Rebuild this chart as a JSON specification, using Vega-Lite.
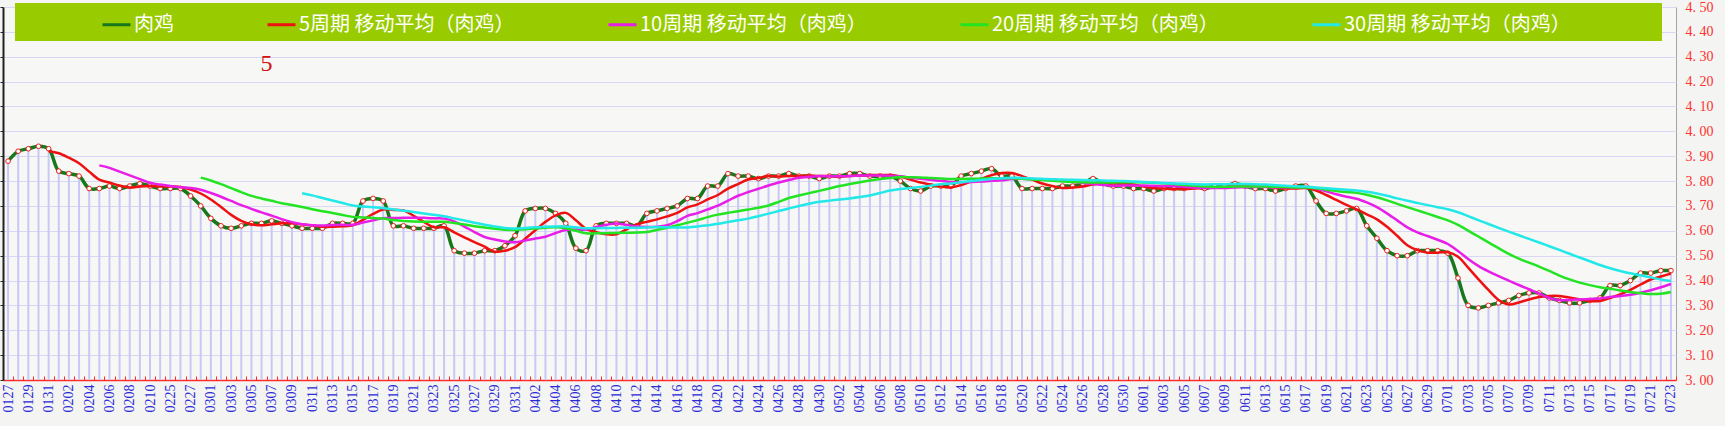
{
  "$schema": "https://vega.github.io/schema/vega-lite/v6.json",
  "width": 1673,
  "height": 373,
  "autosize": {"type": "none"},
  "padding": {"left": 3, "top": 7, "right": 49, "bottom": 46},
  "background": "#f4f4f2",
  "config": {
    "view": {"stroke": "#a4a4a4", "fill": "#f7f7f5"},
    "font": "Liberation Serif"
  },
  "data": {
    "values": [
      {"d": "0127", "v": 3.88}, {"d": "0128", "v": 3.92}, {"d": "0129", "v": 3.93}, {"d": "0130", "v": 3.94}, {"d": "0131", "v": 3.93},
      {"d": "0201", "v": 3.84}, {"d": "0202", "v": 3.83}, {"d": "0203", "v": 3.82}, {"d": "0204", "v": 3.77}, {"d": "0205", "v": 3.77},
      {"d": "0206", "v": 3.78}, {"d": "0207", "v": 3.77}, {"d": "0208", "v": 3.78}, {"d": "0209", "v": 3.79}, {"d": "0210", "v": 3.78},
      {"d": "0211", "v": 3.77}, {"d": "0225", "v": 3.77}, {"d": "0226", "v": 3.77}, {"d": "0227", "v": 3.74}, {"d": "0228", "v": 3.70},
      {"d": "0301", "v": 3.65}, {"d": "0302", "v": 3.62}, {"d": "0303", "v": 3.61}, {"d": "0304", "v": 3.62}, {"d": "0305", "v": 3.63},
      {"d": "0306", "v": 3.63}, {"d": "0307", "v": 3.64}, {"d": "0308", "v": 3.63}, {"d": "0309", "v": 3.62}, {"d": "0310", "v": 3.61},
      {"d": "0311", "v": 3.61}, {"d": "0312", "v": 3.61}, {"d": "0313", "v": 3.63}, {"d": "0314", "v": 3.63}, {"d": "0315", "v": 3.63},
      {"d": "0316", "v": 3.72}, {"d": "0317", "v": 3.73}, {"d": "0318", "v": 3.72}, {"d": "0319", "v": 3.62}, {"d": "0320", "v": 3.62},
      {"d": "0321", "v": 3.61}, {"d": "0322", "v": 3.61}, {"d": "0323", "v": 3.61}, {"d": "0324", "v": 3.62}, {"d": "0325", "v": 3.52},
      {"d": "0326", "v": 3.51}, {"d": "0327", "v": 3.51}, {"d": "0328", "v": 3.52}, {"d": "0329", "v": 3.52}, {"d": "0330", "v": 3.54},
      {"d": "0331", "v": 3.58}, {"d": "0401", "v": 3.68}, {"d": "0402", "v": 3.69}, {"d": "0403", "v": 3.69}, {"d": "0404", "v": 3.67},
      {"d": "0405", "v": 3.63}, {"d": "0406", "v": 3.53}, {"d": "0407", "v": 3.52}, {"d": "0408", "v": 3.62}, {"d": "0409", "v": 3.63},
      {"d": "0410", "v": 3.63}, {"d": "0411", "v": 3.63}, {"d": "0412", "v": 3.62}, {"d": "0413", "v": 3.67}, {"d": "0414", "v": 3.68},
      {"d": "0415", "v": 3.69}, {"d": "0416", "v": 3.70}, {"d": "0417", "v": 3.73}, {"d": "0418", "v": 3.73}, {"d": "0419", "v": 3.78},
      {"d": "0420", "v": 3.78}, {"d": "0421", "v": 3.83}, {"d": "0422", "v": 3.82}, {"d": "0423", "v": 3.82}, {"d": "0424", "v": 3.81},
      {"d": "0425", "v": 3.82}, {"d": "0426", "v": 3.82}, {"d": "0427", "v": 3.83}, {"d": "0428", "v": 3.82}, {"d": "0429", "v": 3.82},
      {"d": "0430", "v": 3.81}, {"d": "0501", "v": 3.82}, {"d": "0502", "v": 3.82}, {"d": "0503", "v": 3.83}, {"d": "0504", "v": 3.83},
      {"d": "0505", "v": 3.82}, {"d": "0506", "v": 3.82}, {"d": "0507", "v": 3.82}, {"d": "0508", "v": 3.80}, {"d": "0509", "v": 3.77},
      {"d": "0510", "v": 3.76}, {"d": "0511", "v": 3.78}, {"d": "0512", "v": 3.78}, {"d": "0513", "v": 3.78}, {"d": "0514", "v": 3.82},
      {"d": "0515", "v": 3.83}, {"d": "0516", "v": 3.84}, {"d": "0517", "v": 3.85}, {"d": "0518", "v": 3.82}, {"d": "0519", "v": 3.82},
      {"d": "0520", "v": 3.77}, {"d": "0521", "v": 3.77}, {"d": "0522", "v": 3.77}, {"d": "0523", "v": 3.77}, {"d": "0524", "v": 3.78},
      {"d": "0525", "v": 3.78}, {"d": "0526", "v": 3.79}, {"d": "0527", "v": 3.81}, {"d": "0528", "v": 3.79}, {"d": "0529", "v": 3.78},
      {"d": "0530", "v": 3.78}, {"d": "0531", "v": 3.77}, {"d": "0601", "v": 3.77}, {"d": "0602", "v": 3.76}, {"d": "0603", "v": 3.77},
      {"d": "0604", "v": 3.77}, {"d": "0605", "v": 3.77}, {"d": "0606", "v": 3.78}, {"d": "0607", "v": 3.77}, {"d": "0608", "v": 3.78},
      {"d": "0609", "v": 3.78}, {"d": "0610", "v": 3.79}, {"d": "0611", "v": 3.78}, {"d": "0612", "v": 3.77}, {"d": "0613", "v": 3.77},
      {"d": "0614", "v": 3.76}, {"d": "0615", "v": 3.77}, {"d": "0616", "v": 3.78}, {"d": "0617", "v": 3.78}, {"d": "0618", "v": 3.72},
      {"d": "0619", "v": 3.67}, {"d": "0620", "v": 3.67}, {"d": "0621", "v": 3.68}, {"d": "0622", "v": 3.69}, {"d": "0623", "v": 3.62},
      {"d": "0624", "v": 3.57}, {"d": "0625", "v": 3.52}, {"d": "0626", "v": 3.50}, {"d": "0627", "v": 3.50}, {"d": "0628", "v": 3.52},
      {"d": "0629", "v": 3.52}, {"d": "0630", "v": 3.52}, {"d": "0701", "v": 3.51}, {"d": "0702", "v": 3.41}, {"d": "0703", "v": 3.30},
      {"d": "0704", "v": 3.29}, {"d": "0705", "v": 3.30}, {"d": "0706", "v": 3.31}, {"d": "0707", "v": 3.32}, {"d": "0708", "v": 3.34},
      {"d": "0709", "v": 3.35}, {"d": "0710", "v": 3.35}, {"d": "0711", "v": 3.33}, {"d": "0712", "v": 3.32}, {"d": "0713", "v": 3.31},
      {"d": "0714", "v": 3.31}, {"d": "0715", "v": 3.32}, {"d": "0716", "v": 3.33}, {"d": "0717", "v": 3.38}, {"d": "0718", "v": 3.38},
      {"d": "0719", "v": 3.40}, {"d": "0720", "v": 3.43}, {"d": "0721", "v": 3.43}, {"d": "0722", "v": 3.44}, {"d": "0723", "v": 3.44}
    ]
  },
  "encoding": {
    "x": {
      "field": "d",
      "type": "ordinal",
      "sort": "ascending",
      "scale": {"type": "band", "paddingInner": 0, "paddingOuter": 0},
      "axis": {
        "title": null,
        "grid": false,
        "labelAngle": 270,
        "labelAlign": "right",
        "labelBaseline": "middle",
        "labelColor": "#2a2ad6",
        "labelFont": "Liberation Serif",
        "labelFontSize": 14,
        "labelOverlap": "parity",
        "labelPadding": 8,
        "tickBand": "extent",
        "tickColor": "#ff2a2a",
        "tickSize": -4,
        "domainColor": "#ff2a2a",
        "domainWidth": 1.5
      }
    }
  },
  "layer": [
    {
      "mark": {"type": "bar", "width": 2, "color": "#c8c8f6"},
      "encoding": {
        "y": {
          "field": "v",
          "type": "quantitative",
          "scale": {"domain": [3, 4.5], "zero": false, "nice": false},
          "axis": {
            "orient": "left",
            "title": null,
            "labels": false,
            "grid": false,
            "ticks": true,
            "tickSize": 3,
            "tickColor": "#222222",
            "domainColor": "#222222",
            "domainWidth": 2,
            "values": [3.0, 3.1, 3.2, 3.3, 3.4, 3.5, 3.6, 3.7, 3.8, 3.9, 4.0, 4.1, 4.2, 4.3, 4.4, 4.5]
          }
        },
        "y2": {"datum": 3}
      }
    },
    {
      "mark": {"type": "line", "interpolate": "catmull-rom", "strokeWidth": 3.5},
      "encoding": {
        "y": {
          "field": "v",
          "type": "quantitative",
          "axis": {
            "orient": "right",
            "title": null,
            "grid": true,
            "gridColor": "#d8d8f6",
            "gridWidth": 1,
            "ticks": false,
            "domain": false,
            "labelPadding": 9,
            "labelColor": "#ff3030",
            "labelFont": "Liberation Serif",
            "labelFontSize": 14,
            "labelExpr": "replace(format(datum.value, '.2f'), '.', '. ')",
            "values": [3.0, 3.1, 3.2, 3.3, 3.4, 3.5, 3.6, 3.7, 3.8, 3.9, 4.0, 4.1, 4.2, 4.3, 4.4, 4.5]
          }
        },
        "color": {
          "datum": "肉鸡",
          "type": "nominal",
          "scale": {
            "domain": ["肉鸡", "5周期 移动平均（肉鸡）", "10周期 移动平均（肉鸡）", "20周期 移动平均（肉鸡）", "30周期 移动平均（肉鸡）"],
            "range": ["#16781a", "#ee1111", "#e81ee8", "#22e422", "#22e8e8"]
          },
          "legend": {
            "orient": "none",
            "legendX": 12,
            "legendY": -4,
            "direction": "horizontal",
            "fillColor": "#99cc00",
            "padding": 6,
            "title": "　",
            "titleOrient": "left",
            "titleFontSize": 20,
            "titleFont": "Noto Sans CJK SC",
            "titlePadding": 80,
            "symbolType": "stroke",
            "symbolSize": 784,
            "symbolStrokeWidth": 3,
            "labelColor": "#ffffff",
            "labelFont": "Noto Sans CJK SC",
            "labelFontSize": 20,
            "labelOffset": 2,
            "labelLimit": 0,
            "columnPadding": 87,
            "labelExpr": "datum.label == '30周期 移动平均（肉鸡）' ? datum.label + '　　　　⠀' : datum.label"
          }
        }
      }
    },
    {
      "mark": {"type": "point", "filled": true, "fill": "#ffffff", "stroke": "#ee2020", "strokeWidth": 1, "size": 22, "opacity": 1},
      "encoding": {"y": {"field": "v", "type": "quantitative", "axis": null}}
    },
    {
      "transform": [
        {"window": [{"op": "mean", "field": "v", "as": "m"}, {"op": "count", "as": "n"}], "frame": [-4, 0], "sort": [{"field": "d", "order": "ascending"}]},
        {"filter": "datum.n == 5"}
      ],
      "mark": {"type": "line", "interpolate": "catmull-rom", "strokeWidth": 2.5},
      "encoding": {
        "y": {"field": "m", "type": "quantitative", "axis": null},
        "color": {"datum": "5周期 移动平均（肉鸡）"}
      }
    },
    {
      "transform": [
        {"window": [{"op": "mean", "field": "v", "as": "m"}, {"op": "count", "as": "n"}], "frame": [-9, 0], "sort": [{"field": "d", "order": "ascending"}]},
        {"filter": "datum.n == 10"}
      ],
      "mark": {"type": "line", "interpolate": "catmull-rom", "strokeWidth": 2.5},
      "encoding": {
        "y": {"field": "m", "type": "quantitative", "axis": null},
        "color": {"datum": "10周期 移动平均（肉鸡）"}
      }
    },
    {
      "transform": [
        {"window": [{"op": "mean", "field": "v", "as": "m"}, {"op": "count", "as": "n"}], "frame": [-19, 0], "sort": [{"field": "d", "order": "ascending"}]},
        {"filter": "datum.n == 20"}
      ],
      "mark": {"type": "line", "interpolate": "catmull-rom", "strokeWidth": 2.5},
      "encoding": {
        "y": {"field": "m", "type": "quantitative", "axis": null},
        "color": {"datum": "20周期 移动平均（肉鸡）"}
      }
    },
    {
      "transform": [
        {"window": [{"op": "mean", "field": "v", "as": "m"}, {"op": "count", "as": "n"}], "frame": [-29, 0], "sort": [{"field": "d", "order": "ascending"}]},
        {"filter": "datum.n == 30"}
      ],
      "mark": {"type": "line", "interpolate": "catmull-rom", "strokeWidth": 2.5},
      "encoding": {
        "y": {"field": "m", "type": "quantitative", "axis": null},
        "color": {"datum": "30周期 移动平均（肉鸡）"}
      }
    },
    {
      "data": {"values": [{"note": "5"}]},
      "mark": {"type": "text", "font": "Liberation Serif", "fontSize": 24, "color": "#d01010", "baseline": "middle", "align": "center", "dx": 5},
      "encoding": {
        "x": {"datum": "0306"},
        "y": {"datum": 4.27, "type": "quantitative", "axis": null},
        "text": {"field": "note"}
      }
    }
  ],
  "resolve": {"axis": {"y": "independent"}}
}
